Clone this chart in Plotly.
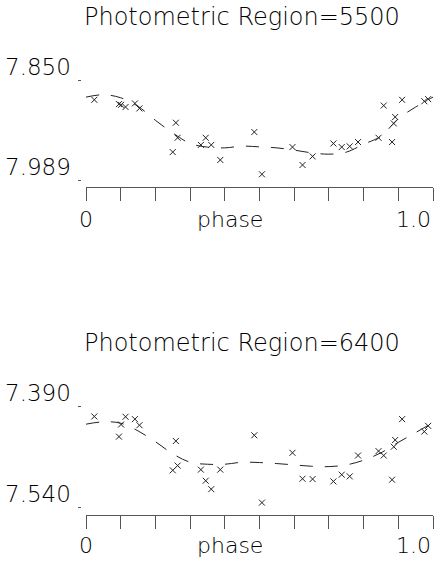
import plotly.graph_objects as go

W, H = 443, 571

# Observation phases (shared by both photometric regions)
phase = [0.024, 0.095, 0.101, 0.114, 0.141, 0.154, 0.259, 0.264, 0.250, 0.331,
         0.345, 0.361, 0.387, 0.485, 0.507, 0.595, 0.624, 0.653, 0.713, 0.737,
         0.760, 0.784, 0.843, 0.858, 0.882, 0.887, 0.891, 0.911, 0.975, 0.986]

# Magnitudes, region 5500
mag_5500 = [7.877, 7.883, 7.884, 7.887, 7.882, 7.889, 7.909, 7.930, 7.950, 7.940,
            7.930, 7.940, 7.961, 7.922, 7.981, 7.943, 7.968, 7.956, 7.938, 7.943,
            7.942, 7.936, 7.930, 7.885, 7.936, 7.910, 7.901, 7.877, 7.879, 7.876]

# Magnitudes, region 6400
mag_6400 = [7.4055, 7.4355, 7.4175, 7.406, 7.4095, 7.4185, 7.442, 7.4785, 7.4855, 7.4845,
            7.501, 7.5135, 7.4845, 7.4335, 7.5335, 7.4595, 7.498, 7.4985, 7.502, 7.492,
            7.4945, 7.4635, 7.457, 7.4635, 7.4995, 7.4505, 7.4405, 7.4095, 7.428, 7.4195]

# Fitted light curves
fit_phase = [0.0, 0.05, 0.1, 0.15, 0.2, 0.25, 0.3, 0.35, 0.4, 0.45, 0.5,
             0.55, 0.6, 0.65, 0.7, 0.75, 0.8, 0.85, 0.9, 0.95, 1.0]
fit_5500 = [7.8732, 7.8699, 7.8741, 7.8861, 7.9056, 7.9232, 7.9380, 7.9431, 7.9441, 7.9417,
            7.9427, 7.9441, 7.9473, 7.9510, 7.9529, 7.9501, 7.9390, 7.9278, 7.9033, 7.8871,
            7.8732]
fit_6400 = [7.4170, 7.4135, 7.4155, 7.4270, 7.4430, 7.4610, 7.4735, 7.4765, 7.4765, 7.4735,
            7.4740, 7.4755, 7.4775, 7.4795, 7.4800, 7.4775, 7.4705, 7.4595, 7.4440, 7.4295,
            7.4145]

tick_phase = [0.0, 0.1, 0.2, 0.3, 0.4, 0.5, 0.6, 0.7, 0.8, 0.9, 1.0]
panels = [
    dict(title="Photometric Region=5500", mag=mag_5500, fit=fit_5500,
         yticks=[7.850, 7.989], yticktext=["7.850", "7.989"],
         tick_px=(80.5, 180.0), area_px=(70, 187), title_px=17, xlab_px=220),
    dict(title="Photometric Region=6400", mag=mag_6400, fit=fit_6400,
         yticks=[7.390, 7.540], yticktext=["7.390", "7.540"],
         tick_px=(406.0, 507.0), area_px=(396, 514.5), title_px=343, xlab_px=545),
]

INK = "#000000"
AXIS = "#555555"
FONT = "DejaVu Sans"
FS = 22
FW = 200

x_left, x_right = 86, 433
fig = go.Figure()
layout = dict(width=W, height=H, margin=dict(l=0, r=0, t=0, b=0),
              paper_bgcolor="white", plot_bgcolor="white", showlegend=False,
              annotations=[])


def label_font(size=FS):
    return dict(family=FONT, size=size, color=INK, weight=FW)


for i, p in enumerate(panels, start=1):
    xa = "x" if i == 1 else f"x{i}"
    ya = "y" if i == 1 else f"y{i}"
    # y range: map pixel rows to magnitudes (magnitudes increase downward)
    (t0, t1), (a0, a1) = p["tick_px"], p["area_px"]
    v0, v1 = p["yticks"]
    per_px = (v1 - v0) / (t1 - t0)
    y_top = v0 + (a0 - t0) * per_px
    y_bot = v0 + (a1 - t0) * per_px

    fig.add_trace(go.Scatter(x=fit_phase, y=p["fit"], mode="lines", xaxis=xa, yaxis=ya,
                             line=dict(color="#222222", width=1, dash="13px,12px",
                                       shape="spline"),
                             hoverinfo="skip"))
    fig.add_trace(go.Scatter(x=phase, y=p["mag"], mode="markers", xaxis=xa, yaxis=ya,
                             marker=dict(symbol="x-thin", size=6,
                                         line=dict(color="#222222", width=1))))

    layout[f"xaxis{'' if i == 1 else i}"] = dict(
        domain=[x_left / W, x_right / W], range=[0, 1], anchor=ya,
        showline=True, linecolor=AXIS, linewidth=1, mirror=False,
        ticks="outside", ticklen=13, tickcolor=AXIS, tickwidth=1,
        tickvals=tick_phase, showticklabels=False,
        showgrid=False, zeroline=False, fixedrange=True)
    layout[f"yaxis{'' if i == 1 else i}"] = dict(
        domain=[1 - a1 / H, 1 - a0 / H], range=[y_bot, y_top], anchor="free",
        position=81 / W, showline=False, ticks="outside", ticklen=3,
        tickcolor=AXIS, tickwidth=1, tickvals=p["yticks"], showticklabels=False,
        showgrid=False, zeroline=False, fixedrange=True)

    ann = layout["annotations"]
    ann.append(dict(text=p["title"], xref="paper", yref="paper",
                    x=242 / W, y=1 - p["title_px"] / H, xanchor="center", yanchor="middle",
                    showarrow=False, font=label_font(24)))
    for val, txt in zip(p["yticks"], p["yticktext"]):
        ann.append(dict(text=txt, xref="paper", yref=ya, x=73 / W, y=val,
                        xanchor="right", yanchor="middle", yshift=13, showarrow=False,
                        font=label_font(23)))
    ylab = 1 - p["xlab_px"] / H
    ann.append(dict(text="0", xref=xa, yref="paper", x=0, y=ylab, xanchor="center",
                    yanchor="middle", showarrow=False, font=label_font()))
    ann.append(dict(text="phase", xref="paper", yref="paper", x=230 / W, y=ylab,
                    xanchor="center", yanchor="middle", showarrow=False,
                    font=label_font()))
    ann.append(dict(text="1.0", xref=xa, yref="paper", x=1, y=ylab, xanchor="right",
                    yanchor="middle", showarrow=False, font=label_font()))

fig.update_layout(**layout)
fig.write_html("out.html")
